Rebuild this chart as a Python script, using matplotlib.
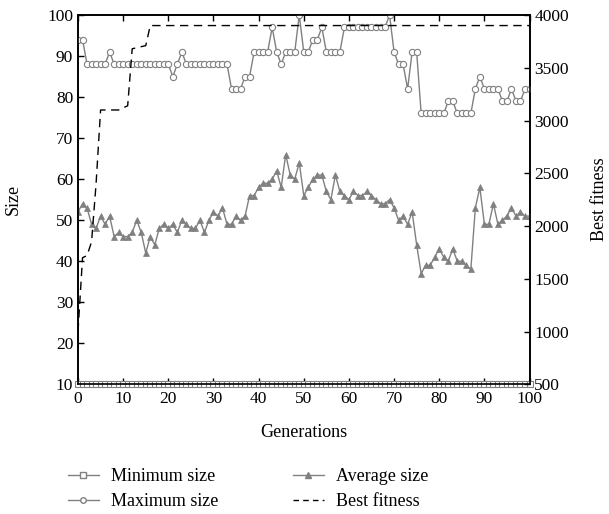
import matplotlib.pyplot as plt
from matplotlib.lines import Line2D

plt.rcParams['font.family'] = ['Liberation Serif', 'DejaVu Serif']

generations = list(range(0, 101))

min_size = [10] * 101

max_size = ([94, 94] + [88] * 5 + [91] + [88] * 13 + [85, 88, 91] + [88] * 10
            + [82] * 3 + [85] * 2 + [91] * 4 + [97, 91, 88, 91, 91, 91]
            + [100, 91, 91, 94, 94, 97] + [91] * 4 + [97] * 10
            + [100, 91, 88, 88, 82, 91, 91] + [76] * 6 + [79, 79] + [76] * 4
            + [82, 85] + [82] * 4 + [79, 79, 82, 79, 79, 82, 82])

avg_size = [52, 54, 53, 49, 48, 51, 49, 51, 46, 47,
            46, 46, 47, 50, 47, 42, 46, 44, 48, 49,
            48, 49, 47, 50, 49, 48, 48, 50, 47, 50,
            52, 51, 53, 49, 49, 51, 50, 51, 56, 56,
            58, 59, 59, 60, 62, 58, 66, 61, 60, 64,
            56, 58, 60, 61, 61, 57, 55, 61, 57, 56,
            55, 57, 56, 56, 57, 56, 55, 54, 54, 55,
            53, 50, 51, 49, 52, 44, 37, 39, 39, 41,
            43, 41, 40, 43, 40, 40, 39, 38, 53, 58,
            49, 49, 54, 49, 50, 51, 53, 51, 52, 51, 51]

best_fitness = ([1000, 1700, 1720, 1850, 2400] + [3100] * 5 + [3120, 3140]
                + [3680, 3690, 3700, 3710] + [3900] * 85)

grey = '#808080'

fig = plt.figure(figsize=(6.09, 5.14), dpi=100)
ax = fig.add_axes([0.1281, 0.2523, 0.7414, 0.7185])
ax2 = ax.twinx()

ax.plot(generations, min_size, color=grey, lw=1.0, marker='s', ms=4,
        mfc='white', mec=grey, mew=0.8, clip_on=False, zorder=3)
ax.plot(generations, max_size, color=grey, lw=1.0, marker='o', ms=4.5,
        mfc='white', mec=grey, mew=0.8, zorder=3)
ax.plot(generations, avg_size, color=grey, lw=1.0, marker='^', ms=4.5,
        mfc=grey, mec=grey, mew=0.5, zorder=3)
ax2.plot(generations, best_fitness, color='black', lw=1.0,
         linestyle=(0, (6, 4)))

ax.set_xlim(0, 100)
ax.set_ylim(10, 100)
ax2.set_ylim(500, 4000)
ax.set_xticks(range(0, 101, 10))
ax.set_yticks(range(10, 101, 10))
ax2.set_yticks(range(500, 4001, 500))

ax.tick_params(direction='in', length=4, width=1, labelsize=12.5,
               top=True, right=False)
ax.tick_params(axis='x', pad=5)
ax2.tick_params(direction='in', length=4, width=1, labelsize=12.5)
for a in (ax, ax2):
    for s in a.spines.values():
        s.set_linewidth(1.2)

ax.set_xlabel('Generations', fontsize=13, labelpad=12)
ax.set_ylabel('Size', fontsize=13, labelpad=18)
ax2.set_ylabel('Best fitness', fontsize=13, labelpad=16)

handles = [
    Line2D([], [], color=grey, lw=1.0, marker='s', ms=4, mfc='white', mec=grey),
    Line2D([], [], color=grey, lw=1.0, marker='o', ms=4, mfc='white', mec=grey),
    Line2D([], [], color=grey, lw=1.0, marker='^', ms=4, mfc=grey, mec=grey),
    Line2D([], [], color='black', lw=1.0, linestyle=(0, (4, 3))),
]
labels = ['Minimum size', 'Maximum size', 'Average size', 'Best fitness']
fig.legend(handles, labels, ncol=2, loc='upper left',
           bbox_to_anchor=(0.097, 0.107), frameon=False, fontsize=13,
           borderpad=0, handlelength=1.7, handletextpad=0.7,
           columnspacing=4.1, labelspacing=0.45)

fig.savefig('out.png', dpi=100)
